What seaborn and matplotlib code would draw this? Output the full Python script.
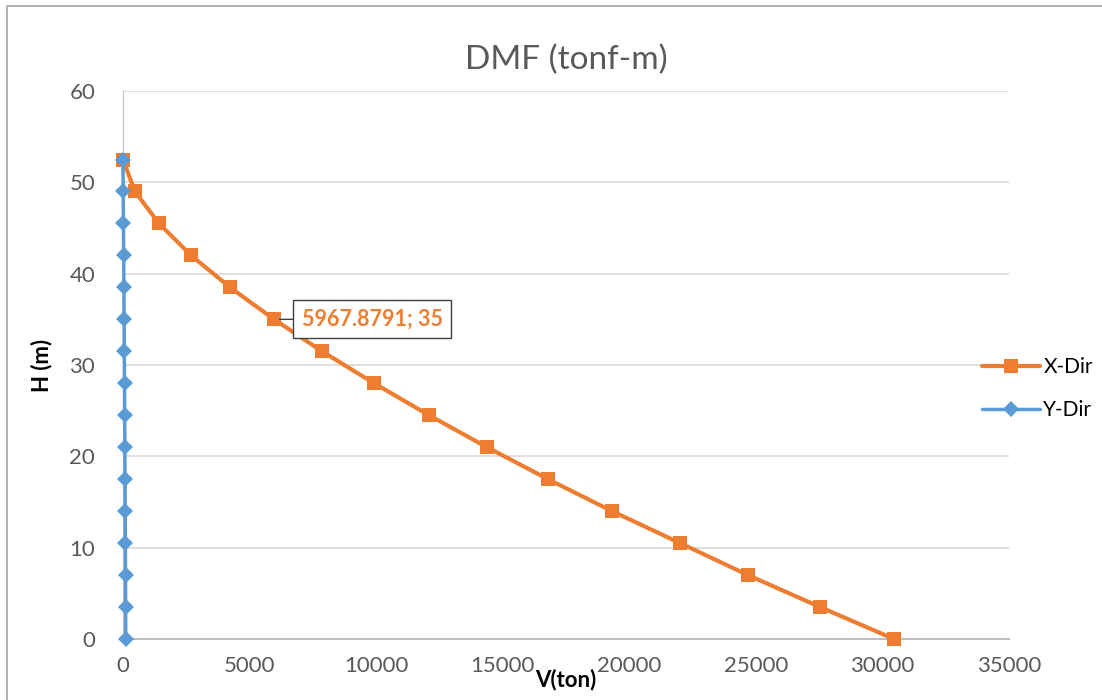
import pandas as pd
import seaborn as sns
import matplotlib.pyplot as plt
from matplotlib.patches import Rectangle

# Data
heights = [52.5, 49, 45.5, 42, 38.5, 35, 31.5, 28, 24.5, 21, 17.5, 14, 10.5, 7, 3.5, 0]
x_dir = [0, 470, 1420, 2690, 4230, 5967.8791, 7860, 9920, 12090, 14380,
         16790, 19320, 22010, 24690, 27540, 30460]
y_dir = [0, 8, 18, 28, 36, 44, 52, 60, 68, 75, 82, 88, 94, 100, 105, 110]
x_ticks = [0, 5000, 10000, 15000, 20000, 25000, 30000, 35000]
y_ticks = [0, 10, 20, 30, 40, 50, 60]

orange = "#ED7D31"
blue = "#5B9BD5"
grey_txt = "#595959"

df = pd.DataFrame({"H": heights, "X-Dir": x_dir, "Y-Dir": y_dir})

sns.set_style("white")
plt.rcParams['font.family'] = ['Lato', 'DejaVu Sans']

fig = plt.figure(figsize=(11.02, 7), dpi=100)
ax = fig.add_axes([0.1116, 0.0871, 0.804, 0.7829])

sns.lineplot(data=df, x="X-Dir", y="H", sort=False, color=orange, lw=3,
             marker="s", markersize=10, markeredgewidth=0, label="X-Dir", ax=ax,
             zorder=3, clip_on=False)
sns.lineplot(data=df, x="Y-Dir", y="H", sort=False, color=blue, lw=2.5,
             marker="D", markersize=8, markeredgewidth=0, label="Y-Dir", ax=ax,
             zorder=4, clip_on=False)

ax.set_xlim(0, 35000)
ax.set_ylim(0, 60)
ax.set_xticks(x_ticks)
ax.set_yticks(y_ticks)
ax.tick_params(axis="both", length=0, labelsize=16, colors=grey_txt)
ax.tick_params(axis="x", pad=12)
ax.tick_params(axis="y", pad=20)
ax.yaxis.grid(True, color="#d9d9d9", lw=1.2)
ax.xaxis.grid(False)
for s in ["top", "right"]:
    ax.spines[s].set_visible(False)
ax.spines["left"].set_color("#bfbfbf")
ax.spines["bottom"].set_color("#bfbfbf")
ax.spines["bottom"].set_linewidth(1.5)

ax.set_title("DMF (tonf-m)", fontsize=24, color=grey_txt, pad=16)
ax.set_xlabel("V(ton)", fontsize=16, fontweight="bold", color="black", labelpad=-5)
ax.set_ylabel("H (m)", fontsize=16, fontweight="bold", color="black", labelpad=12)

# data label callout
ax.annotate("5967.8791; 35", xy=(x_dir[5], heights[5]), xytext=(20, 0),
            textcoords="offset points", ha="left", va="center",
            fontsize=15.5, fontweight="bold", color=orange,
            bbox=dict(boxstyle="square,pad=0.4", fc="white", ec="#404040", lw=1),
            arrowprops=dict(arrowstyle="-", color="#404040", lw=1, shrinkA=0, shrinkB=4))

ax.legend_.remove()
handles, labels = ax.get_legend_handles_labels()
fig.legend(handles, labels, loc="center left", bbox_to_anchor=(0.874, 0.445),
           frameon=False, fontsize=15, handlelength=2.8, handletextpad=0.15,
           labelspacing=1.1, labelcolor="black")

# outer chart border
fig.patches.append(Rectangle((7 / 1102, -0.01), 1.0, 1 - 6 / 700 + 0.01,
                             transform=fig.transFigure, fill=False,
                             ec="#a6a6a6", lw=1.2, zorder=0))

fig.savefig("out.png", dpi=100)
